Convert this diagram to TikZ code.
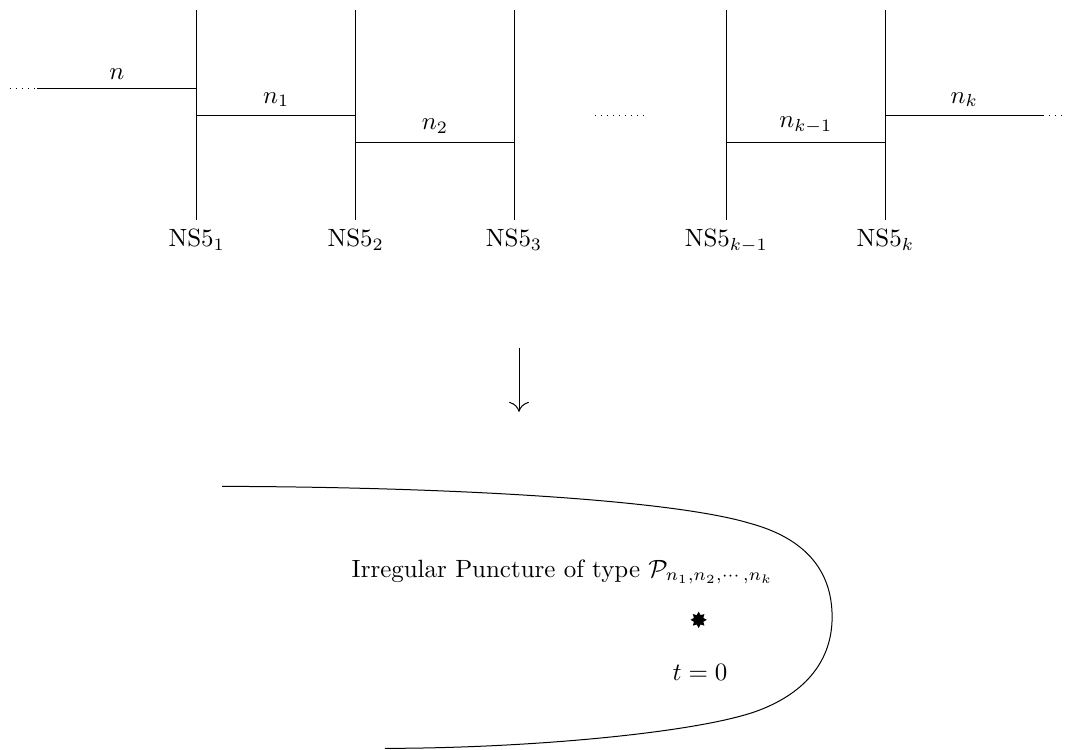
\documentclass[tikz,border=0pt]{standalone}
\usepackage{amsmath, tikz, xcolor}
\usetikzlibrary{arrows.meta, shapes.geometric}

\begin{document}
\begin{tikzpicture}
\useasboundingbox (0,0) rectangle (15,-10.55);
% NS5 branes
\coordinate (top1) at (2.77,-0.14);   \coordinate (bot1) at (2.77,-3.10);
\coordinate (top2) at (5.01,-0.14);   \coordinate (bot2) at (5.01,-3.10);
\coordinate (top3) at (7.24,-0.14);   \coordinate (bot3) at (7.24,-3.10);
\coordinate (top4) at (10.23,-0.14);  \coordinate (bot4) at (10.23,-3.10);
\coordinate (top5) at (12.47,-0.14);  \coordinate (bot5) at (12.47,-3.10);
\draw (top1) -- (bot1) node [below] (ns1) {NS5$_1$};
\draw (top2) -- (bot2) node [below] (ns2) {NS5$_2$};
\draw (top3) -- (bot3) node [below] (ns3) {NS5$_3$};
\draw (top4) -- (bot4) node [below] (ns4) {NS5$_{k-1}$};
\draw (top5) -- (bot5) node [below] (ns5) {NS5$_k$};
% D4 branes
\coordinate (dotL) at (0.14,-1.25);
\coordinate (endL) at (0.52,-1.25);
\coordinate (endR) at (14.69,-1.63);
\coordinate (dotR) at (14.97,-1.63);
\coordinate (gapL) at (8.38,-1.63);
\coordinate (gapR) at (9.11,-1.63);
\draw[dotted] (dotL) -- (endL);
\draw (endL) -- (endL -| top1) node [midway, above] (lab0) {$n$};
\draw (top1 |- 0,-1.63) -- (top2 |- 0,-1.63) node [midway, above] (lab1) {$n_1$};
\draw (top2 |- 0,-2.00) -- (top3 |- 0,-2.00) node [midway, above] (lab2) {$n_2$};
\draw[dotted] (gapL) -- (gapR);
\draw (top4 |- 0,-2.00) -- (top5 |- 0,-2.00) node [midway, above] (lab4) {$n_{k-1}$};
\draw (endR -| top5) -- (endR) node [midway, above] (lab5) {$n_k$};
\draw[dotted] (endR) -- (dotR);
% map to the Riemann surface
\coordinate (arrTop) at (7.31,-4.90);
\coordinate (arrBot) at (7.31,-5.80);
\draw[-{To[length=1.4mm,width=2.8mm]}] (arrTop) -- (arrBot);
\draw (3.13,-6.85) .. controls (6.5,-6.86) and (9.5,-7.05) .. (10.56,-7.37)
  .. controls (11.3,-7.57) and (11.72,-8.0) .. (11.72,-8.69)
  .. controls (11.72,-9.3) and (11.35,-9.75) .. (10.70,-10.0)
  .. controls (9.9,-10.31) and (7.5,-10.54) .. (5.42,-10.54);
\node[anchor=base west] (punc) at (4.83,-8.13) {Irregular Puncture of type $\mathcal{P}_{n_1,n_2,\cdots,n_k}$};
\node[star, star points=8, star point ratio=1.6, fill, inner sep=0pt, minimum size=0.23cm] (pt) at (9.84,-8.73) {};
\node (tlab) at (9.86,-9.47) {$t=0$};
\end{tikzpicture}
\end{document}
